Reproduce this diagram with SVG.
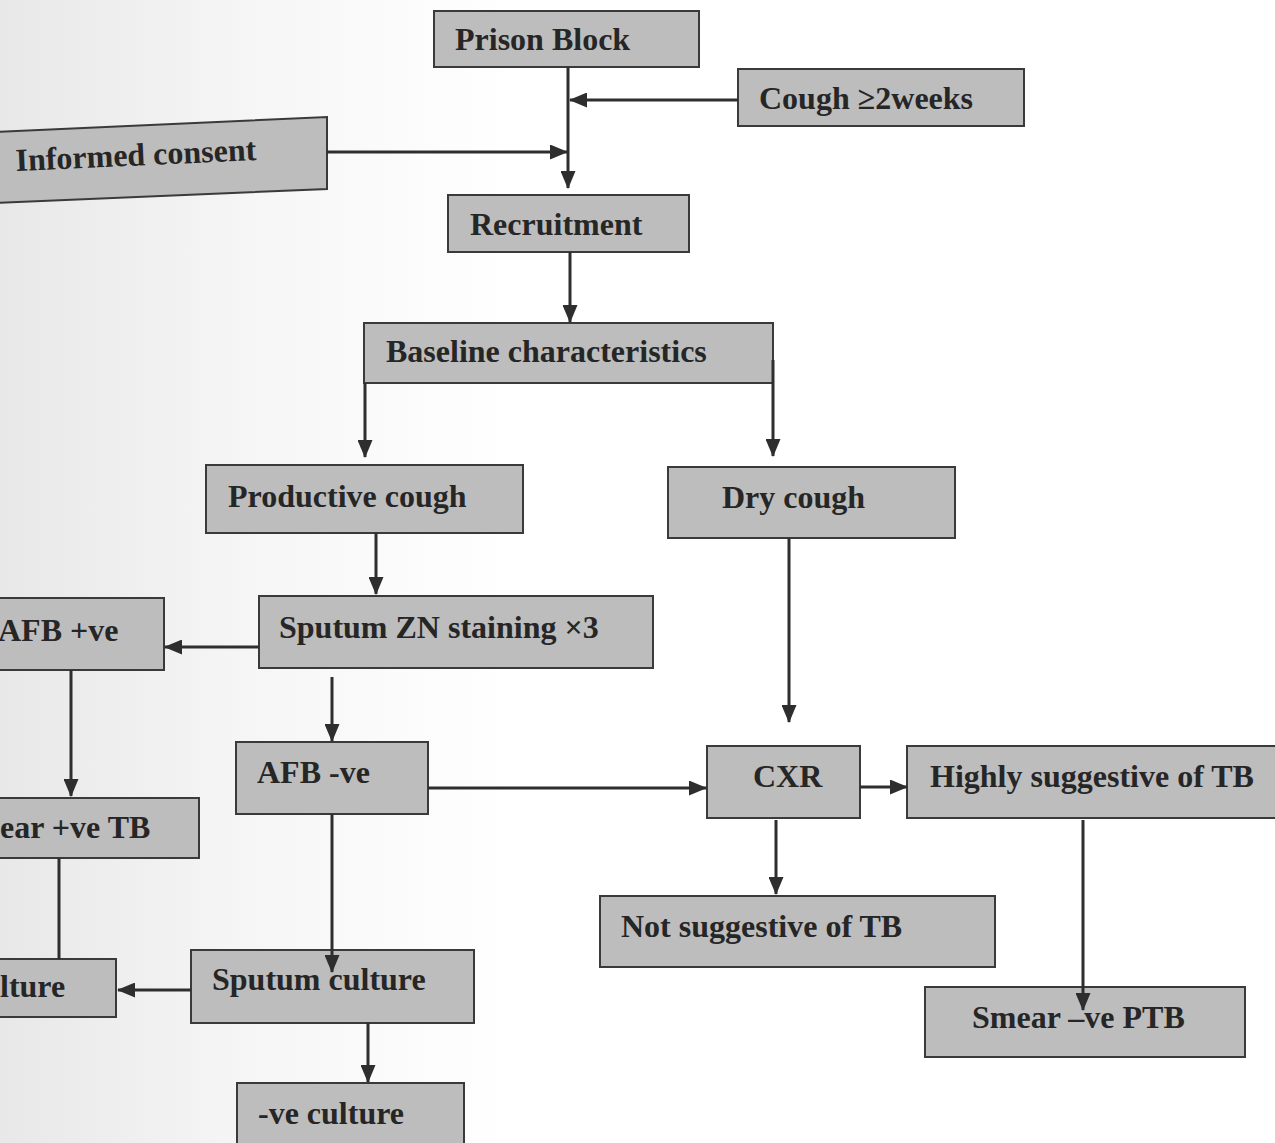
<svg xmlns="http://www.w3.org/2000/svg" width="1275" height="1143" viewBox="0 0 1275 1143">
<style>
.box{fill:#bdbdbd;stroke:#3a3a3a;stroke-width:2}
.t{font-family:"Liberation Serif","Times New Roman",serif;font-weight:bold;font-size:32px;fill:#262626}
.c{fill:none;stroke:#2e2e2e;stroke-width:3}
</style>
<defs>
<linearGradient id="bg" x1="0" y1="0" x2="1" y2="0">
<stop offset="0" stop-color="#e8e8e8"/>
<stop offset="0.2" stop-color="#f6f6f6"/>
<stop offset="0.4" stop-color="#ffffff"/>
</linearGradient>
<marker id="a" markerWidth="18" markerHeight="15" refX="17" refY="7.5" orient="auto" markerUnits="userSpaceOnUse">
<path d="M0,0 L18,7.5 L0,15 Z" fill="#2e2e2e"/>
</marker>
</defs>
<rect x="0" y="0" width="1275" height="1143" fill="url(#bg)"/>

<g id="prison-block"><rect class="box" x="434" y="11" width="265" height="56"/><text class="t" x="455" y="50">Prison Block</text></g>
<g id="cough"><rect class="box" x="738" y="69" width="286" height="57"/><text class="t" x="759" y="109">Cough ≥2weeks</text></g>
<g id="informed-consent"><path class="box" d="M-3,132 L327,117 L327,189 L-3,203 Z"/><text class="t" x="16" y="171" transform="rotate(-2.6 16 171)">Informed consent</text></g>
<g id="recruitment"><rect class="box" x="448" y="195" width="241" height="57"/><text class="t" x="470" y="235">Recruitment</text></g>
<g id="baseline"><rect class="box" x="364" y="323" width="409" height="60"/><text class="t" x="386" y="362">Baseline characteristics</text></g>
<g id="productive-cough"><rect class="box" x="206" y="465" width="317" height="68"/><text class="t" x="228" y="507">Productive cough</text></g>
<g id="dry-cough"><rect class="box" x="668" y="467" width="287" height="71"/><text class="t" x="722" y="508">Dry cough</text></g>
<g id="sputum-zn"><rect class="box" x="259" y="596" width="394" height="72"/><text class="t" x="279" y="638">Sputum ZN staining ×3</text></g>
<g id="afb-pos"><rect class="box" x="-5" y="598" width="169" height="72"/><text class="t" x="-2" y="641">AFB +ve</text></g>
<g id="afb-neg"><rect class="box" x="236" y="742" width="192" height="72"/><text class="t" x="257" y="783">AFB -ve</text></g>
<g id="smear-pos"><rect class="box" x="-5" y="798" width="204" height="60"/><text class="t" x="0" y="838">ear +ve TB</text></g>
<g id="pos-culture"><rect class="box" x="-5" y="959" width="121" height="58"/><text class="t" x="0" y="997">lture</text></g>
<g id="sputum-culture"><rect class="box" x="191" y="950" width="283" height="73"/><text class="t" x="212" y="990">Sputum culture</text></g>
<g id="neg-culture"><rect class="box" x="237" y="1083" width="227" height="65"/><text class="t" x="258" y="1124">-ve culture</text></g>
<g id="cxr"><rect class="box" x="707" y="746" width="153" height="72"/><text class="t" x="753" y="787">CXR</text></g>
<g id="highly-suggestive"><rect class="box" x="907" y="746" width="373" height="72"/><text class="t" x="930" y="787">Highly suggestive of TB</text></g>
<g id="not-suggestive"><rect class="box" x="600" y="896" width="395" height="71"/><text class="t" x="621" y="937">Not suggestive of TB</text></g>
<g id="smear-neg-ptb"><rect class="box" x="925" y="987" width="320" height="70"/><text class="t" x="972" y="1028">Smear –ve PTB</text></g>

<g id="connectors">
<path class="c" d="M568,67 V188" marker-end="url(#a)"/>
<path class="c" d="M738,100 H570" marker-end="url(#a)"/>
<path class="c" d="M327,152 H567" marker-end="url(#a)"/>
<path class="c" d="M570,252 V322" marker-end="url(#a)"/>
<path class="c" d="M365,383 V457" marker-end="url(#a)"/>
<path class="c" d="M773,360 V456" marker-end="url(#a)"/>
<path class="c" d="M376,533 V594" marker-end="url(#a)"/>
<path class="c" d="M259,647 H165" marker-end="url(#a)"/>
<path class="c" d="M332,677 V741" marker-end="url(#a)"/>
<path class="c" d="M71,670 V796" marker-end="url(#a)"/>
<path class="c" d="M59,858 V959"/>
<path class="c" d="M332,814 V972" marker-end="url(#a)"/>
<path class="c" d="M191,990 H118" marker-end="url(#a)"/>
<path class="c" d="M368,1023 V1082" marker-end="url(#a)"/>
<path class="c" d="M428,788 H706" marker-end="url(#a)"/>
<path class="c" d="M789,538 V722" marker-end="url(#a)"/>
<path class="c" d="M860,787 H907" marker-end="url(#a)"/>
<path class="c" d="M776,820 V894" marker-end="url(#a)"/>
<path class="c" d="M1083,820 V1010" marker-end="url(#a)"/>
</g>
</svg>
